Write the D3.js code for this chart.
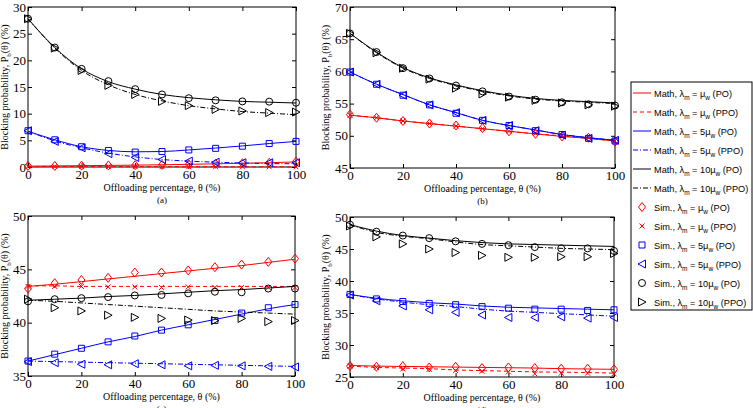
<!DOCTYPE html>
<html>
<head>
<meta charset="utf-8">
<script src="https://cdn.jsdelivr.net/npm/d3@7"></script>
<style>
body { margin: 0; background: #fff; }
svg { display: block; }
.tick text { font-family: "Liberation Serif", "Times New Roman", serif; font-size: 13px; fill: #000; }
.tick line { stroke: #000; }
.ax-lbl { font-family: "Liberation Serif", "Times New Roman", serif; font-size: 10px; fill: #000; }
.leg { font-family: "Liberation Sans", Arial, sans-serif; font-size: 9.2px; fill: #000; }
</style>
</head>
<body>
<svg id="chart" width="753" height="408"></svg>
<script>
// offloading percentage (x for every panel)
var theta = [0, 10, 20, 30, 40, 50, 60, 70, 80, 90, 100];
var xTicks = [0, 20, 40, 60, 80, 100];

// panel (a)
var aTicks = [0, 5, 10, 15, 20, 25, 30];
var a_m_po_1   = [0.15, 0.2, 0.25, 0.3, 0.35, 0.42, 0.5, 0.6, 0.7, 0.8, 0.95];
var a_m_ppo_1  = [0.1, 0.1, 0.09, 0.08, 0.07, 0.06, 0.05, 0.05, 0.04, 0.04, 0.03];
var a_m_po_5   = [6.7, 5.1, 3.8, 3.1, 2.85, 2.9, 3.2, 3.55, 3.95, 4.4, 4.8];
var a_m_ppo_5  = [6.7, 4.9, 3.6, 2.6, 1.9, 1.4, 1.1, 0.9, 0.75, 0.65, 0.6];
var a_m_po_10  = [27.8, 22.4, 18.4, 16.0, 14.6, 13.6, 13.0, 12.6, 12.3, 12.15, 12.0];
var a_m_ppo_10 = [27.8, 22.3, 18.1, 15.4, 13.6, 12.4, 11.5, 10.9, 10.4, 10.1, 9.8];
var a_s_po_1   = [0.2, 0.2, 0.25, 0.3, 0.35, 0.4, 0.5, 0.6, 0.7, 0.8, 1.0];
var a_s_ppo_1  = [0.1, 0.1, 0.1, 0.08, 0.07, 0.06, 0.05, 0.05, 0.04, 0.04, 0.03];
var a_s_po_5   = [6.8, 5.1, 3.8, 3.1, 2.8, 2.9, 3.2, 3.5, 3.9, 4.4, 4.8];
var a_s_ppo_5  = [6.8, 4.8, 3.6, 2.5, 1.8, 1.4, 1.1, 0.9, 0.8, 0.8, 0.8];
var a_s_po_10  = [27.8, 22.4, 18.4, 16.1, 14.6, 13.6, 12.9, 12.5, 12.3, 12.25, 12.05];
var a_s_ppo_10 = [27.8, 22.3, 18.1, 15.3, 13.6, 12.3, 11.5, 10.8, 10.5, 10.2, 10.3];

// panel (b)
var bTicks = [45, 50, 55, 60, 65, 70];
var b_m_po_1   = [53.2, 52.8, 52.3, 51.9, 51.5, 51.1, 50.7, 50.3, 49.9, 49.6, 49.2];
var b_m_ppo_1  = [53.2, 52.8, 52.3, 51.9, 51.5, 51.1, 50.7, 50.3, 50.0, 49.6, 49.2];
var b_m_po_5   = [59.9, 58.0, 56.4, 54.8, 53.6, 52.4, 51.6, 50.9, 50.2, 49.7, 49.3];
var b_m_ppo_5  = [59.9, 58.0, 56.4, 54.8, 53.6, 52.4, 51.6, 50.9, 50.2, 49.7, 49.3];
var b_m_po_10  = [65.9, 63.0, 60.6, 59.0, 57.9, 57.0, 56.3, 55.8, 55.5, 55.3, 55.1];
var b_m_ppo_10 = [65.9, 62.9, 60.5, 58.9, 57.8, 56.9, 56.2, 55.7, 55.4, 55.2, 55.0];
var b_s_po_1   = [53.3, 52.8, 52.3, 51.9, 51.6, 51.2, 50.7, 50.3, 49.9, 49.7, 49.1];
var b_s_ppo_1  = [53.2, 52.8, 52.3, 51.9, 51.5, 51.1, 50.7, 50.4, 50.0, 49.7, 49.2];
var b_s_po_5   = [59.9, 58.0, 56.3, 54.8, 53.5, 52.4, 51.6, 50.8, 50.2, 49.6, 49.2];
var b_s_ppo_5  = [59.9, 58.0, 56.3, 54.8, 53.6, 52.4, 51.6, 50.8, 50.1, 49.6, 49.3];
var b_s_po_10  = [65.9, 63.0, 60.5, 58.9, 57.8, 56.9, 56.1, 55.6, 55.2, 54.9, 54.7];
var b_s_ppo_10 = [65.9, 62.9, 60.5, 58.8, 57.4, 56.5, 56.0, 55.5, 55.1, 54.8, 54.6];

// panel (c)
var cTicks = [35, 40, 45, 50];
var c_m_po_1   = [43.4, 43.6, 43.85, 44.1, 44.35, 44.6, 44.85, 45.1, 45.35, 45.65, 45.95];
var c_m_ppo_1  = [43.45, 43.45, 43.4, 43.4, 43.4, 43.4, 43.4, 43.4, 43.4, 43.4, 43.4];
var c_m_po_5   = [36.4, 37.0, 37.6, 38.2, 38.7, 39.3, 39.8, 40.3, 40.8, 41.3, 41.7];
var c_m_ppo_5  = [36.4, 36.35, 36.3, 36.25, 36.2, 36.15, 36.1, 36.05, 36.0, 35.95, 35.9];
var c_m_po_10  = [42.1, 42.2, 42.3, 42.45, 42.55, 42.7, 42.85, 43.0, 43.1, 43.25, 43.4];
var c_m_ppo_10 = [42.1, 42.0, 41.85, 41.7, 41.55, 41.4, 41.25, 41.1, 41.0, 40.9, 40.8];
var c_s_po_1   = [43.2, 43.7, 44.0, 44.2, 44.7, 44.7, 44.9, 45.2, 45.45, 45.7, 46.0];
var c_s_ppo_1  = [43.4, 43.4, 43.4, 43.35, 43.35, 43.3, 43.35, 43.3, 43.3, 43.3, 43.3];
var c_s_po_5   = [36.4, 37.05, 37.6, 38.2, 38.75, 39.3, 39.8, 40.2, 40.9, 41.4, 41.7];
var c_s_ppo_5  = [36.35, 36.25, 36.1, 36.05, 36.15, 36.05, 35.95, 36.0, 35.95, 35.9, 35.85];
var c_s_po_10  = [42.0, 42.2, 42.3, 42.4, 42.55, 42.6, 42.75, 42.9, 42.85, 43.2, 43.2];
var c_s_ppo_10 = [42.2, 41.4, 41.1, 40.7, 40.5, 40.4, 40.25, 40.2, 40.4, 40.1, 40.2];

// panel (d)
var dTicks = [25, 30, 35, 40, 45, 50];
var d_m_po_1   = [26.8, 26.7, 26.65, 26.6, 26.55, 26.5, 26.45, 26.4, 26.3, 26.25, 26.2];
var d_m_ppo_1  = [26.7, 26.5, 26.4, 26.3, 26.1, 26.0, 25.9, 25.8, 25.75, 25.7, 25.6];
var d_m_po_5   = [37.9, 37.3, 36.9, 36.6, 36.4, 36.1, 35.9, 35.8, 35.7, 35.6, 35.5];
var d_m_ppo_5  = [37.9, 37.2, 36.7, 36.3, 36.0, 35.6, 35.3, 35.1, 34.9, 34.7, 34.5];
var d_m_po_10  = [48.8, 47.8, 47.1, 46.7, 46.3, 46.0, 45.8, 45.7, 45.6, 45.5, 45.4];
var d_m_ppo_10 = [48.8, 47.6, 47.0, 46.6, 46.1, 45.7, 45.5, 45.3, 45.1, 45.0, 44.9];
var d_s_po_1   = [26.7, 26.6, 26.7, 26.5, 26.6, 26.4, 26.5, 26.4, 26.3, 26.3, 26.2];
var d_s_ppo_1  = [26.7, 26.5, 26.25, 26.2, 26.0, 25.9, 25.8, 25.5, 25.6, 25.6, 25.5];
var d_s_po_5   = [37.9, 37.2, 36.8, 36.5, 36.3, 36.0, 35.75, 35.6, 35.6, 35.4, 35.5];
var d_s_ppo_5  = [37.8, 36.9, 36.1, 35.5, 35.1, 34.7, 34.3, 34.3, 34.4, 34.2, 34.3];
var d_s_po_10  = [48.8, 47.7, 47.1, 46.7, 46.2, 45.8, 45.6, 45.3, 45.1, 45.1, 44.7];
var d_s_ppo_10 = [48.6, 46.9, 45.8, 45.0, 44.45, 44.0, 43.7, 43.7, 43.8, 43.8, 44.3];

// legend labels: [prefix, coefficient, suffix]
var legendLabels = [
  ["Math", "", "PO"], ["Math", "", "PPO"],
  ["Math", "5", "PO"], ["Math", "5", "PPO"],
  ["Math", "10", "PO"], ["Math", "10", "PPO"],
  ["Sim.", "", "PO"], ["Sim.", "", "PPO"],
  ["Sim.", "5", "PO"], ["Sim.", "5", "PPO"],
  ["Sim.", "10", "PO"], ["Sim.", "10", "PPO"]
];

var DASH = "4,3", DASHDOT = "5,2,1,2";

// style of each of the 6 scenarios (order: mu PO, mu PPO, 5mu PO, 5mu PPO, 10mu PO, 10mu PPO)
var styles = [
  {color: "#f00", dash: null,    marker: "diamond"},
  {color: "#f00", dash: DASH,    marker: "cross"},
  {color: "#00f", dash: null,    marker: "square"},
  {color: "#00f", dash: DASHDOT, marker: "tleft"},
  {color: "#000", dash: null,    marker: "circle"},
  {color: "#000", dash: DASHDOT, marker: "tright"}
];

var panels = [
  {x0: 28, x1: 296, y0: 7, y1: 167, ticks: aTicks, cap: "(a)", lblX: 8,
   math: [a_m_po_1, a_m_ppo_1, a_m_po_5, a_m_ppo_5, a_m_po_10, a_m_ppo_10],
   sim:  [a_s_po_1, a_s_ppo_1, a_s_po_5, a_s_ppo_5, a_s_po_10, a_s_ppo_10]},
  {x0: 350, x1: 615, y0: 7, y1: 168, ticks: bTicks, cap: "(b)", lblX: 329,
   math: [b_m_po_1, b_m_ppo_1, b_m_po_5, b_m_ppo_5, b_m_po_10, b_m_ppo_10],
   sim:  [b_s_po_1, b_s_ppo_1, b_s_po_5, b_s_ppo_5, b_s_po_10, b_s_ppo_10]},
  {x0: 28, x1: 295, y0: 216, y1: 376, ticks: cTicks, cap: "(c)", lblX: 8,
   math: [c_m_po_1, c_m_ppo_1, c_m_po_5, c_m_ppo_5, c_m_po_10, c_m_ppo_10],
   sim:  [c_s_po_1, c_s_ppo_1, c_s_po_5, c_s_ppo_5, c_s_po_10, c_s_ppo_10]},
  {x0: 350, x1: 614, y0: 217, y1: 377, ticks: dTicks, cap: "(d)", lblX: 329,
   math: [d_m_po_1, d_m_ppo_1, d_m_po_5, d_m_ppo_5, d_m_po_10, d_m_ppo_10],
   sim:  [d_s_po_1, d_s_ppo_1, d_s_po_5, d_s_ppo_5, d_s_po_10, d_s_ppo_10]}
];

var svg = d3.select("#chart");

function drawMarker(g, type, cx, cy, color){
  var s = 3.5;
  if (type == "circle") {
    g.append("circle").attr("cx", cx).attr("cy", cy).attr("r", s)
      .attr("fill", "none").attr("stroke", color);
    return;
  }
  var p;
  if (type == "diamond") p = d3.path(), p.moveTo(cx, cy-4.5), p.lineTo(cx+3.5, cy), p.lineTo(cx, cy+4.5), p.lineTo(cx-3.5, cy), p.closePath();
  if (type == "square") p = d3.path(), p.rect(cx-3, cy-3, 6, 6);
  if (type == "tleft") p = d3.path(), p.moveTo(cx-4, cy), p.lineTo(cx+3.5, cy-4), p.lineTo(cx+3.5, cy+4), p.closePath();
  if (type == "tright") p = d3.path(), p.moveTo(cx+4, cy), p.lineTo(cx-3.5, cy-4), p.lineTo(cx-3.5, cy+4), p.closePath();
  if (type == "cross") p = d3.path(), p.moveTo(cx-2.5, cy-2.5), p.lineTo(cx+2.5, cy+2.5), p.moveTo(cx-2.5, cy+2.5), p.lineTo(cx+2.5, cy-2.5);
  g.append("path").attr("d", p.toString()).attr("fill", "none").attr("stroke", color);
}

panels.forEach(function(pn){
  var x = d3.scaleLinear().domain([0, 100]).range([pn.x0, pn.x1]);
  var y = d3.scaleLinear().domain(d3.extent(pn.ticks)).range([pn.y1, pn.y0]);
  var g = svg.append("g");

  // axes, ticks pointing inwards on all four sides
  g.append("g").attr("transform", "translate(0," + pn.y1 + ")")
    .call(d3.axisBottom(x).tickValues(xTicks).tickSizeInner(-4).tickSizeOuter(0).tickPadding(3));
  g.append("g").attr("transform", "translate(" + pn.x0 + ",0)")
    .call(d3.axisLeft(y).tickValues(pn.ticks).tickSizeInner(-4).tickSizeOuter(0).tickPadding(2));
  g.append("g").attr("transform", "translate(0," + pn.y0 + ")")
    .call(d3.axisTop(x).tickValues(xTicks).tickSizeInner(-4).tickSizeOuter(0).tickFormat(""));
  g.append("g").attr("transform", "translate(" + pn.x1 + ",0)")
    .call(d3.axisRight(y).tickValues(pn.ticks).tickSizeInner(-4).tickSizeOuter(0).tickFormat(""));
  g.selectAll(".domain").remove();

  g.append("rect")
    .attr("x", pn.x0).attr("y", pn.y0)
    .attr("width", pn.x1 - pn.x0).attr("height", pn.y1 - pn.y0)
    .attr("fill", "none").attr("stroke", "#000");

  var line = d3.line()
    .x(function(d, i){ return x(theta[i]); })
    .y(function(d){ return y(d); })
    .curve(d3.curveMonotoneX);

  pn.math.forEach(function(ser, k){
    g.append("path")
      .attr("d", line(ser))
      .attr("fill", "none")
      .attr("stroke", styles[k].color)
      .attr("stroke-width", 1)
      .attr("stroke-dasharray", styles[k].dash);
  });

  pn.sim.forEach(function(ser, k){
    ser.forEach(function(v, i){
      drawMarker(g, styles[k].marker, x(theta[i]), y(v), styles[k].color);
    });
  });

  // labels
  var cx = (pn.x0 + pn.x1) / 2, cy = (pn.y0 + pn.y1) / 2;
  g.append("text").attr("class", "ax-lbl")
    .attr("x", cx).attr("y", pn.y1 + 24).attr("text-anchor", "middle")
    .text("Offloading percentage, \u03b8 (%)");
  g.append("text").attr("class", "ax-lbl")
    .attr("x", cx).attr("y", pn.y1 + 36).attr("text-anchor", "middle")
    .style("font-size", "9px")
    .text(pn.cap);

  var yl = g.append("text").attr("class", "ax-lbl")
    .attr("text-anchor", "middle")
    .attr("transform", "translate(" + pn.lblX + "," + cy + ") rotate(-90)");
  yl.append("tspan").text("Blocking probability, P");
  yl.append("tspan").attr("dy", 3).style("font-size", "7px").text("b");
  yl.append("tspan").attr("dy", -3).text("(\u03b8) (%)");
});

// legend
var lg = svg.append("g");
lg.append("rect")
  .attr("x", 631).attr("y", 82).attr("width", 121).attr("height", 228)
  .attr("fill", "#fff").attr("stroke", "#000");

legendLabels.forEach(function(lab, i){
  var ly = 93 + i * 19;
  var k = i % 6;
  var st = styles[k];
  if (i < 6) {
    lg.append("line")
      .attr("x1", 633).attr("x2", 651).attr("y1", ly).attr("y2", ly)
      .attr("stroke", st.color).attr("stroke-dasharray", st.dash);
  } else {
    drawMarker(lg, st.marker, 642, ly, st.color);
  }
  var t = lg.append("text").attr("class", "leg").attr("x", 654).attr("y", ly + 3.5);
  t.append("tspan").text(lab[0] + ", \u03bb");
  t.append("tspan").attr("dy", 3).style("font-size", "6.5px").text("m");
  t.append("tspan").attr("dy", -3).text(" = " + lab[1] + "\u03bc");
  t.append("tspan").attr("dy", 3).style("font-size", "6.5px").text("w");
  t.append("tspan").attr("dy", -3).text(" (" + lab[2] + ")");
});
</script>
</body>
</html>
